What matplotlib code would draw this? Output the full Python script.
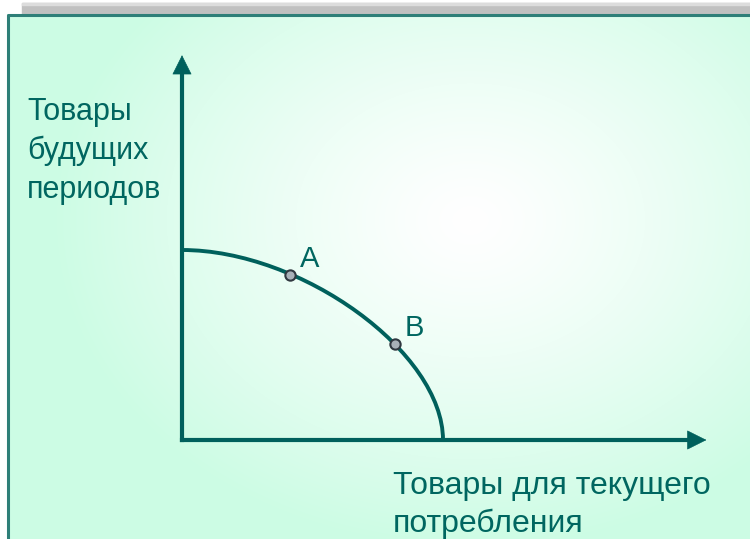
import numpy as np
import matplotlib
matplotlib.use("Agg")
import matplotlib.pyplot as plt
from matplotlib.path import Path
from matplotlib.patches import PathPatch, Rectangle

# ---- data (chart units: intercepts of the frontier at 10) ----
frontier_ctrl_x = [0.0, 4.6, 10.0, 10.0]   # Bezier control points of the frontier
frontier_ctrl_y = [10.0, 10.0, 4.6, 0.0]
point_labels = ["A", "B"]
point_x = [4.14, 8.16]
point_y = [8.68, 5.05]
axis_x_max = 20.2
axis_y_max = 20.4
ylabel_lines = ["Товары", "будущих", "периодов"]
xlabel_lines = ["Товары для текущего", "потребления"]

W, H = 750, 539
fig = plt.figure(figsize=(W / 100, H / 100), dpi=100)
plt.rcParams['font.family'] = ['Liberation Sans', 'DejaVu Sans']

# ---- background panel ----
bg = fig.add_axes([0, 0, 1, 1])
bg.set_xlim(0, W)
bg.set_ylim(H, 0)
bg.axis("off")
bg.add_patch(Rectangle((0, 0), W, H, color="white", zorder=0))
bg.add_patch(Rectangle((22, 3), W - 22, 12, color="#c0c0c0", zorder=1))
bg.add_patch(Rectangle((22, 3), W - 22, 2, color="#dcdcdc", zorder=1))
yy, xx = np.mgrid[14:H, 7:W]
r = np.sqrt(((xx - 470) / 420.0) ** 2 + ((yy - 220) / 330.0) ** 2)
t = np.clip(r, 0, 1) ** 1.25
edge = np.array([204, 252, 228]) / 255.0
img = (1 - t)[..., None] * np.ones(3) + t[..., None] * edge
bg.imshow(img, extent=(7, W, H, 14), zorder=1, interpolation="bilinear", aspect="auto")
bg.plot([8, 8, W], [H, 15, 15], color="#2e7f78", lw=2.2, zorder=2, solid_capstyle="butt")

# ---- chart axes: origin at pixel (182, 440) ----
ox, oy = 182, 440
sx, sy = 26.1, 19.0
ax = fig.add_axes([ox / W, (H - oy) / H, (W - ox) / W, oy / H])
ax.set_xlim(0, (W - ox) / sx)
ax.set_ylim(0, oy / sy)
ax.axis("off")
ax.patch.set_alpha(0)

teal = "#00605c"
txt = "#006660"
ax.plot([0, 0], [0, axis_y_max - 0.8], color=teal, lw=3.0, solid_capstyle="projecting", clip_on=False)
ax.plot([0, axis_x_max - 0.6], [0, 0], color=teal, lw=3.0, solid_capstyle="projecting", clip_on=False)
ax.annotate("", xy=(0, axis_y_max), xytext=(0, axis_y_max - 1.2),
            arrowprops=dict(arrowstyle="-|>,head_length=1.3,head_width=0.65", color=teal, lw=0.5),
            annotation_clip=False)
ax.annotate("", xy=(axis_x_max, 0), xytext=(axis_x_max - 0.9, 0),
            arrowprops=dict(arrowstyle="-|>,head_length=1.3,head_width=0.65", color=teal, lw=0.5),
            annotation_clip=False)

verts = list(zip(frontier_ctrl_x, frontier_ctrl_y))
path = Path(verts, [Path.MOVETO, Path.CURVE4, Path.CURVE4, Path.CURVE4])
ax.add_patch(PathPatch(path, facecolor="none", edgecolor=teal, lw=2.8, clip_on=False))

ax.scatter(point_x, point_y, s=55, color="#a8b0b8", edgecolors="#303840", linewidths=1.5, zorder=5)

# labels of points (pixel offsets)
for lab, px, py in zip(point_labels, point_x, point_y):
    ax.annotate(lab, (px, py), xytext=(10, 8), textcoords="offset pixels",
                fontsize=21, color=txt, ha="left", va="baseline")

# ---- axis titles in pixel coordinates ----
for i, line in enumerate(ylabel_lines):
    bg.text(27, 120 + i * 39, line, fontsize=22, color=txt, ha="left", va="baseline")
for i, line in enumerate(xlabel_lines):
    bg.text(393, 494 + i * 38, line, fontsize=23, color=txt, ha="left", va="baseline")

fig.savefig("out.png", dpi=100)
